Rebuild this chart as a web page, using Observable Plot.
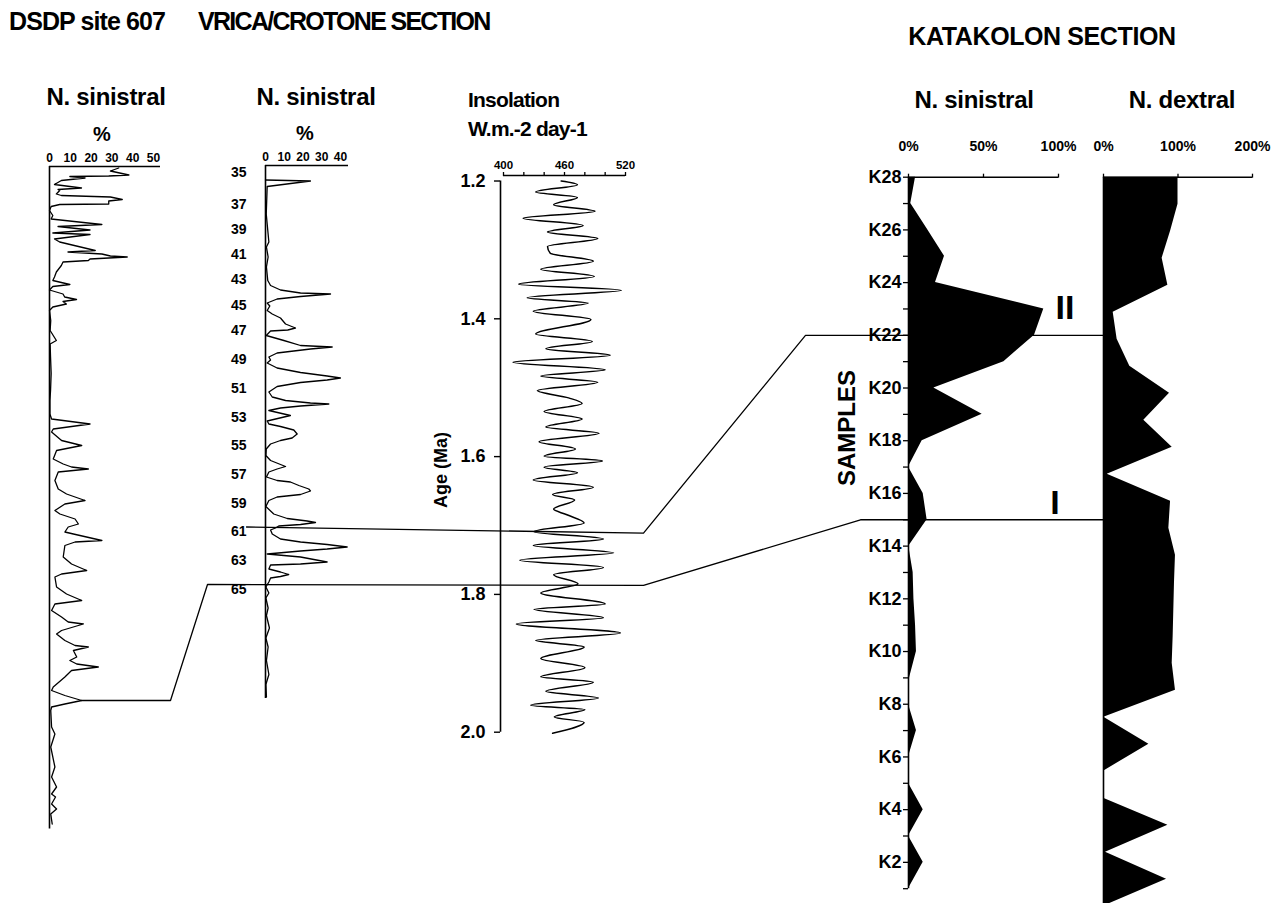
<!DOCTYPE html>
<html>
<head>
<meta charset="utf-8">
<script src="https://cdn.jsdelivr.net/npm/d3@7"></script>
<script src="https://cdn.jsdelivr.net/npm/@observablehq/plot@0.6"></script>
<style>
  html, body { margin: 0; padding: 0; background: #fff; overflow: hidden; }
  #fig { position: relative; width: 1279px; height: 903px; overflow: hidden; color: #000;
         font-family: "Liberation Sans", Arial, Helvetica, sans-serif; font-weight: bold; }
  .lbl { position: absolute; white-space: nowrap; line-height: 1; }
</style>
</head>
<body>
<div id="fig"></div>
<script>
// ---------- DSDP site 607: N. pachyderma sinistral (%) against core depth (m) ----------
const dsdpDepth = [0.3,0.9,1.7,1.9,2.0,2.3,2.8,3.6,4.3,4.6,4.8,5.5,5.8,6.1,6.6,6.9,7.5,7.6,8.0,8.8,9.8,10.5,
  11.6,12.0,12.7,13.3,13.6,14.5,15.1,15.5,16.8,17.1,17.5,17.9,18.1,18.5,18.8,19.1,19.8,21.1,22.1,22.8,23.6,24.0,
  24.7,25.5,26.1,26.6,27.0,27.5,28.1,28.8,30.8,32.8,34.8,35.5,38.1,41.4,44.8,46.8,49.5,50.5,51.5,52.5,53.1,54.8,
  55.8,56.8,58.5,59.5,60.1,60.5,61.1,62.8,64.5,65.5,66.8,67.5,68.8,69.5,70.5,71.5,72.1,73.1,73.5,74.8,75.1,75.8,
  78.1,79.5,80.8,81.5,82.1,84.1,85.5,86.8,87.5,88.8,90.1,91.1,91.5,92.8,93.5,94.8,95.8,96.1,96.8,98.1,98.8,99.5,
  100.1,100.8,102.1,104.1,104.8,105.8,106.8,107.5,108.1,108.8,112.1,113.5,116.1,120.1,122.1,124.1,125.5,126.1,
  127.5,128.5,129.5,131.5];
const dsdpSin = [33.3,29.3,38.2,28.5,9.8,17.1,5.7,2.4,15.4,4.1,4.9,3.3,5.7,29.3,35,28.5,28.5,4.9,0.8,0,1.6,0.8,
  25.2,4.1,19.5,1.6,19.5,2.4,4.9,8.9,22,8.9,25.2,29.3,37.4,19.5,18.7,6.5,5.7,3.3,2.4,1.6,9.8,1.6,
  0,6.5,7.3,13,6.5,8.1,1.6,0,0.6,0.3,3.3,0.3,0.5,0.8,0.5,0.2,0.2,1.0,19.5,1.8,1.0,5.8,
  15.5,3.4,1.8,6.6,10.6,18.7,4.2,2.6,4.2,8.2,17.1,7.4,2.6,5.0,12.3,13.9,9.0,7.4,11.5,25.2,12.3,7.4,
  6.6,10.6,17.9,5.8,2.6,3.4,8.2,15.5,2.6,1.0,5.8,9.0,16.3,5.8,3.4,7.4,12.3,18.7,11.5,13.1,9.8,13.1,
  23.5,10.6,7.4,1.8,1.0,7.4,15.5,7.4,1.0,0.6,1.0,2.6,0.6,2.6,1.0,3.4,1.0,2.9,
  1.0,3.4,0.6,1.3];
const dsdpTicks = [0, 10, 20, 30, 40, 50];

// ---------- Vrica/Crotone section: sinistral (%) against position in section (m) ----------
const vricaPos = [2.9,3.1,4.2,9.7,15.3,16.3,18.3,20.3,23,24,24.9,25.5,25.7,26.2,26.7,27.5,28.1,29,29.7,30.5,
  31.7,32.5,32.9,33.1,34,35,36,36.3,36.7,37.1,37.5,38.3,38.9,39.5,40.5,41.4,42.1,42.5,42.9,43.4,44.2,45.3,
  46.3,47,47.5,47.7,48.1,48.5,49,50,51.1,51.7,52.2,52.9,53.7,54.5,55,55.7,56.7,58,59,60.2,60.7,61.3,62.3,
  63,63.3,64,64.7,65.1,65.8,66.3,67,68.2,69.7,70.6,71.1,71.4,71.8,72.1,72.5,72.9,73.7,74.7,75.3,75.8,76.3,
  76.7,77.1,77.7,78.3,79.3,79.7,79.9,80.7,81.3,81.8,82.2,82.5,83.3,84.3,85.5,86.5,88.5,90,92.5,94.5,96.3,
  99,101.8,103.8,106.3];
const vricaSin = [0,24,0.9,0.4,1.8,0.5,1.4,0.5,1.2,2.7,8,18.7,34.7,18.7,6.2,0.9,2.3,0.9,3.6,8,
  10.7,16,11.9,2.7,0.4,9.8,18.7,35.6,24,15.1,6.2,1.8,2.7,0.9,6.2,18.7,32.9,40,32.9,18.7,6.2,1.8,
  3.6,10.7,24,33.8,18.7,8,1.8,13.3,0.9,1.8,8,15.1,16.9,14.2,8,2.7,0.4,0.2,2.7,10.7,6.2,1.8,0.5,
  6.2,13.3,17.8,23.1,24,18.7,6.2,1.8,0.2,4.4,11.6,22.2,26.7,18.7,7.1,5.3,2.7,3.6,8,18.7,32.9,43.6,
  32.9,18.7,0.9,18.7,32.9,18.7,2.7,1.8,8,12.4,8,2.7,1.8,0.2,1.8,0.2,1.4,0.5,2.1,0.2,1.4,
  0.5,1.8,0.2,0.5];
const sapropelNum = [35,37,39,41,43,45,47,49,51,53,55,57,59,61,63,65];
const sapropelPos = [0.5,6.9,11.9,16.9,21.9,27.1,32.1,37.9,43.6,49.4,55.1,60.9,66.7,72.3,78.1,83.8];
const vricaTicks = [0, 10, 20, 30, 40];

// ---------- 65°N summer insolation (W m-2 day-1) against age (Ma) ----------
const insAge = [1.2000,1.2053,1.2159,1.2238,1.2344,1.2439,1.2540,1.2646,1.2741,1.2836,1.2952,1.3048,1.3164,
  1.3280,1.3386,1.3497,1.3587,1.3693,1.3772,1.3889,1.4011,1.4222,1.4328,1.4434,1.4529,1.4630,1.4741,1.4831,
  1.4921,1.5042,1.5148,1.5228,1.5344,1.5455,1.5571,1.5661,1.5783,1.5889,1.5995,1.6063,1.6153,1.6233,1.6339,
  1.6444,1.6550,1.6630,1.6762,1.6841,1.6963,1.7090,1.7196,1.7291,1.7397,1.7503,1.7608,1.7714,1.7847,1.7979,
  1.8138,1.8217,1.8339,1.8429,1.8561,1.8667,1.8762,1.8931,1.9063,1.9196,1.9275,1.9407,1.9503,1.9608,1.9672,
  1.9778,1.9857,2.0016];
const insValue = [456.7,472.7,431.7,472.7,449.3,490,419.3,478.3,443.3,492.7,443.3,446,488.3,
  436.7,489.3,415,516,423.3,483.3,429.3,486,431.7,487.3,441.7,505,409.3,500,436.7,
  492.7,433.3,464,477.3,440,477.3,441.7,494,435,470.7,440,497.3,440,472.7,429.3,
  488.3,448.3,470,449.3,461.7,479.3,430,498.3,429.3,508.3,416,498.3,449.3,473.3,436.7,
  500,430,498.3,412.7,515,431.7,479.3,436.7,480,436.7,488.3,441.7,493.3,426.7,480,
  450,479.3,448.3];
const insTicks = [400, 420, 440, 460, 480, 500, 520];
const ageTicks = [1.2, 1.4, 1.6, 1.8, 2.0];

// ---------- Katakolon section: samples K1–K28 ----------
const samples = d3.range(28, 0, -1);
const katSinistral = [4.7,1.5,12.9,24,18,90.2,84,63.6,16.9,49.1,9.1,0,9.8,12.4,0.2,3.1,3.6,4.7,5.3,0.7,0,5.3,0,0,9.8,0,9.8,0];
const katDextral = [100,100,90,78.7,86.4,13,18.3,35.3,88.6,54.1,92.2,5,90,87.7,96.6,95.3,94.4,93.5,92.2,96.6,0.4,60.9,0,0,86.4,2.7,84.6,0];
const sinTicks = [0, 50, 100];
const dexTicks = [0, 100, 200];

// ---------- Correlation levels ----------
const levelI  = {depth: 106.8, pct: 15.5, sapropel: 65, age: 1.787, sample: 15};
const levelII = {sapropel: 61, age: 1.711, sample: 22};

// ---------- layout ----------
const W = 1279, H = 903;
const FONT = '"Liberation Sans", Arial, Helvetica, sans-serif';
const fig = document.getElementById("fig");

function panel(box, opts) {
  const height = box.height || H;
  const svg = Plot.plot({
    width: W, height,
    marginLeft: box.left, marginRight: W - box.right,
    marginTop: box.top, marginBottom: height - box.bottom,
    ...opts
  });
  svg.setAttribute("style",
    `position:absolute;left:0;top:0;background:transparent;overflow:visible;max-width:none;` +
    `font-family:${FONT};font-weight:bold;color:#000;`);
  fig.append(svg);
  return svg;
}

const bold = {fontWeight: "bold", fontFamily: FONT};

// DSDP 607
const dsdp = dsdpDepth.map((d, i) => ({depth: d, pct: dsdpSin[i]}));
const dsdpX = [0, 53.4], dsdpY = [0, 132.5];
const dsdpPlot = panel({left: 49, right: 160, top: 166, bottom: 828.5}, {
  x: {domain: dsdpX},
  y: {domain: dsdpY, reverse: true, axis: null},
  marks: [
    Plot.ruleY([dsdpY[0]], {x1: dsdpX[0], x2: dsdpX[1], strokeWidth: 1.6}),
    Plot.ruleX([0], {y1: dsdpY[0], y2: dsdpY[1], strokeWidth: 1.6}),
    Plot.axisX({anchor: "top", ticks: dsdpTicks, tickSize: 0, tickPadding: 5, fontSize: 12, label: null, ...bold}),
    Plot.line(dsdp, {x: "pct", y: "depth", strokeWidth: 1.3})
  ]
});

// Vrica / Crotone
const vrica = vricaPos.map((d, i) => ({pos: d, pct: vricaSin[i]}));
const sapLabel = new Map(sapropelPos.map((p, i) => [p, sapropelNum[i]]));
const vricaX = [0, 44.3], vricaY = [0, 106.6];
const vricaPlot = panel({left: 265, right: 348, top: 165, bottom: 698}, {
  x: {domain: vricaX},
  y: {domain: vricaY, reverse: true},
  marks: [
    Plot.ruleY([vricaY[0]], {x1: vricaX[0], x2: vricaX[1], strokeWidth: 1.6}),
    Plot.ruleX([0], {y1: vricaY[0], y2: vricaY[1], strokeWidth: 1.6}),
    Plot.axisX({anchor: "top", ticks: vricaTicks, tickSize: 0, tickPadding: 5, fontSize: 12, label: null, ...bold}),
    Plot.axisY({anchor: "left", ticks: sapropelPos, tickSize: 0, tickPadding: 19, dy: 5,
      tickFormat: d => sapLabel.get(d), fontSize: 14, label: null, ...bold}),
    Plot.line(vrica, {x: "pct", y: "pos", strokeWidth: 1.3})
  ]
});

// Insolation
const ins = insAge.map((a, i) => ({age: a, value: insValue[i]}));
const insX = [397.05, 520], insY = [1.192, 2.0];
const insPlot = panel({left: 500, right: 625, top: 175, bottom: 731.7}, {
  x: {domain: insX},
  y: {domain: insY, reverse: true},
  marks: [
    Plot.ruleY([insY[0]], {x1: insTicks[0], x2: insTicks[insTicks.length - 1], strokeWidth: 1.4}),
    Plot.ruleX([insX[0]], {y1: ageTicks[0], y2: ageTicks[ageTicks.length - 1], strokeWidth: 1.6}),
    Plot.axisX({anchor: "top", ticks: insTicks, tickSize: 4, tickPadding: 3, strokeWidth: 1.3,
      tickFormat: d => (d - 400) % 60 === 0 ? d : "", fontSize: 11.5, label: null, ...bold}),
    Plot.axisY({anchor: "left", ticks: ageTicks, tickSize: 6, tickPadding: 9, strokeWidth: 1.4,
      tickFormat: d3.format(".1f"), fontSize: 18, label: null, ...bold}),
    Plot.line(ins, {x: "value", y: "age", curve: "monotone-y", strokeWidth: 1.5})
  ]
});

// Katakolon: N. sinistral
const katS = samples.map((s, i) => ({sample: s, value: katSinistral[i]}));
const katSX = [0, 100], katY = [1, 28];
const katSPlot = panel({left: 908, right: 1058, top: 176.7, bottom: 888.2}, {
  x: {domain: katSX},
  y: {domain: katY},
  marks: [
    Plot.areaX(katS, {y: "sample", x: "value", fill: "#000"}),
    Plot.ruleY([katY[1]], {x1: katSX[0], x2: katSX[1], strokeWidth: 1.4}),
    Plot.ruleX([0], {y1: katY[0], y2: katY[1], strokeWidth: 1.6}),
    Plot.axisX({anchor: "top", ticks: sinTicks, tickSize: 4, tickPadding: 22, strokeWidth: 1.3,
      tickFormat: d => d + "%", fontSize: 14, label: null, ...bold}),
    Plot.axisY({anchor: "left", ticks: samples, tickSize: 5, tickPadding: 2, strokeWidth: 1.3,
      tickFormat: d => d % 2 === 0 ? "K" + d : "", fontSize: 18, label: null, ...bold})
  ]
});

// Katakolon: N. dextral
const katD = samples.map((s, i) => ({sample: s, value: katDextral[i]}));
const katDX = [0, 200];
const katDPlot = panel({left: 1103, right: 1252, top: 176.7, bottom: 905.7, height: 912}, {
  x: {domain: katDX},
  y: {domain: katY, axis: null},
  marks: [
    Plot.areaX(katD, {y: "sample", x: "value", fill: "#000"}),
    Plot.ruleY([katY[1]], {x1: katDX[0], x2: katDX[1], strokeWidth: 1.4}),
    Plot.ruleX([0], {y1: katY[0], y2: katY[1], strokeWidth: 1.6}),
    Plot.axisX({anchor: "top", ticks: dexTicks, tickSize: 4, tickPadding: 22, strokeWidth: 1.3,
      tickFormat: d => d + "%", fontSize: 14, label: null, ...bold})
  ]
});

// ---------- correlation lines, routed through the gaps between panels ----------
const sx = p => p.scale("x"), sy = p => p.scale("y");
const gap = {dsdpOut: 10, vricaI: 58, vricaII: 19, insOut: 18, katII: 103, katI: 48};
const posOf = n => sapropelPos[sapropelNum.indexOf(n)];
const linkI = [
  [sx(dsdpPlot).apply(levelI.pct), sy(dsdpPlot).apply(levelI.depth)],
  [sx(dsdpPlot).apply(dsdpX[1]) + gap.dsdpOut, sy(dsdpPlot).apply(levelI.depth)],
  [sx(vricaPlot).apply(0) - gap.vricaI, sy(vricaPlot).apply(posOf(levelI.sapropel))],
  [sx(insPlot).apply(insX[1]) + gap.insOut, sy(insPlot).apply(levelI.age)],
  [sx(katSPlot).apply(0) - gap.katI, sy(katSPlot).apply(levelI.sample)],
  [sx(katDPlot).apply(0), sy(katSPlot).apply(levelI.sample)]
].map(([x, y]) => ({id: "I", x, y}));
const linkII = [
  [sx(vricaPlot).apply(0) - gap.vricaII, sy(vricaPlot).apply(posOf(levelII.sapropel))],
  [sx(insPlot).apply(insX[1]) + gap.insOut, sy(insPlot).apply(levelII.age)],
  [sx(katSPlot).apply(0) - gap.katII, sy(katSPlot).apply(levelII.sample)],
  [sx(katDPlot).apply(0), sy(katSPlot).apply(levelII.sample)]
].map(([x, y]) => ({id: "II", x, y}));

panel({left: 0, right: W, top: 0, bottom: H}, {
  x: {type: "identity", axis: null},
  y: {type: "identity", axis: null},
  marks: [Plot.line([...linkI, ...linkII], {x: "x", y: "y", z: "id", strokeWidth: 1.3})]
});

// ---------- headings and annotations ----------
function label(text, x, y, size, {anchor = "middle", rotate = 0, spacing = 0} = {}) {
  const el = document.createElement("div");
  el.className = "lbl";
  el.textContent = text;
  el.style.fontSize = size + "px";
  el.style.letterSpacing = spacing + "px";
  el.style.left = x + "px";
  el.style.top = y + "px";
  const tx = anchor === "middle" ? "-50%" : "0";
  el.style.transform = `translate(${tx}, -50%)` + (rotate ? ` rotate(${rotate}deg)` : "");
  fig.append(el);
}
label("DSDP site 607", 9, 21, 25, {anchor: "start", spacing: -0.9});
label("VRICA/CROTONE SECTION", 198, 21, 25, {anchor: "start", spacing: -1.7});
label("KATAKOLON SECTION", 1042, 36, 25, {spacing: -0.4});
label("N. sinistral", 106, 97, 24, {spacing: -0.3});
label("%", 102, 134, 20);
label("N. sinistral", 316, 97, 24, {spacing: -0.3});
label("%", 305, 133, 20);
label("Insolation", 468, 99, 21, {anchor: "start", spacing: -0.8});
label("W.m.-2 day-1", 468, 128, 21, {anchor: "start", spacing: -0.8});
label("Age (Ma)", 441, 470, 18, {rotate: -90});
label("N. sinistral", 974, 100, 24, {spacing: -0.3});
label("N. dextral", 1182, 100, 24, {spacing: -0.3});
label("SAMPLES", 847, 428, 24, {rotate: -90});
label("II", 1065, 307, 34);
label("I", 1055, 502, 34);
</script>
</body>
</html>
